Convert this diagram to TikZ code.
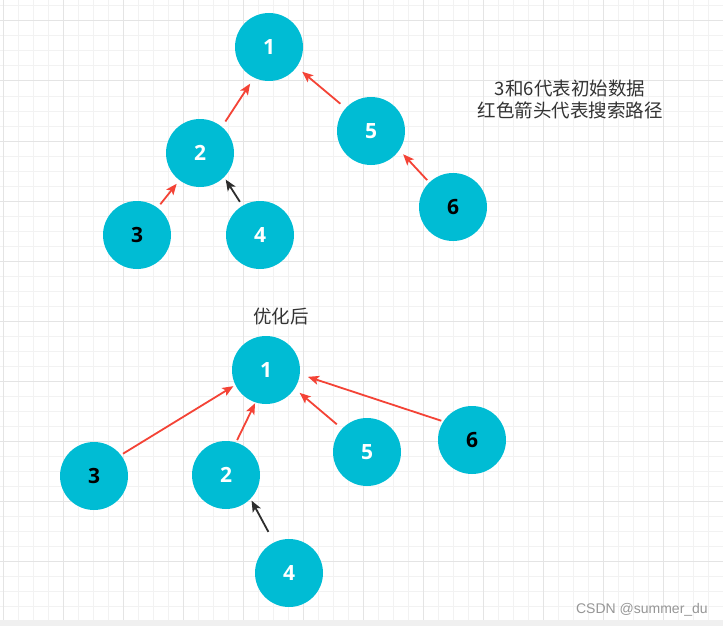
\documentclass[tikz,border=0pt]{standalone}
\usepackage{fontspec}
\setmainfont{Open Sans}
\newfontfamily\cjk{Noto Sans CJK SC}
\newfontfamily\arialf{Liberation Sans}
\usetikzlibrary{arrows.meta}
\definecolor{nodecyan}{RGB}{0,188,212}
\definecolor{arrred}{RGB}{244,67,54}
\definecolor{arrblack}{RGB}{45,45,45}
\definecolor{gridminor}{RGB}{242,242,242}
\definecolor{gridmajor}{RGB}{228,228,228}
\definecolor{txtgray}{RGB}{51,51,51}
\definecolor{wmgray}{RGB}{150,150,150}
\tikzset{
  circ/.style={circle, fill=nodecyan, minimum size=68pt, inner sep=0pt, outer sep=0pt,
    font=\fontsize{21}{24}\selectfont\bfseries, text=white},
  circdark/.style={circ, text=black},
  redarr/.style={draw=arrred, line width=1.8pt, -{Stealth[length=11pt,width=9pt,inset=2.5pt]}},
  blkarr/.style={draw=arrblack, line width=1.8pt, -{Stealth[length=11pt,width=9pt,inset=2.5pt]}},
  note/.style={font=\cjk\fontsize{18.5}{22}\selectfont, text=txtgray, align=center, inner sep=0pt}
}
\begin{document}
\begin{tikzpicture}[x=1pt,y=-1pt]
\useasboundingbox (0,0) rectangle (723,626);
\fill[white] (0,0) rectangle (723,626);
\begin{scope}
\clip (0,0) rectangle (723,620);
\foreach \x in {3,18,...,723} \draw[gridminor, line width=1pt] (\x,0) -- (\x,626);
\foreach \y in {6,21,...,626} \draw[gridminor, line width=1pt] (0,\y) -- (723,\y);
\foreach \x in {3,63,...,723} \draw[gridmajor, line width=1pt] (\x,0) -- (\x,626);
\foreach \y in {21,81,...,626} \draw[gridmajor, line width=1pt] (0,\y) -- (723,\y);
\end{scope}
\fill[gray!12] (0,620) rectangle (723,626);

% top tree
\node[circ] (t1) at (269,47) {1};
\node[circ] (t2) at (200,153) {2};
\node[circdark] (t3) at (137,235) {3};
\node[circ] (t4) at (260,235) {4};
\node[circ] (t5) at (371,131) {5};
\node[circdark] (t6) at (453,207) {6};

\draw[redarr, shorten <=6.5pt, shorten >=7.3pt] (t2.50) -- (t1.244);
\draw[redarr, shorten <=4.6pt, shorten >=4.6pt] (t3.53) -- (t2.233);
\draw[blkarr, shorten <=4.8pt, shorten >=3pt] (t4.121) -- (t2.315);
\draw[redarr, shorten <=7pt, shorten >=7.4pt] (t5.138) -- (t1.324);
\draw[redarr, shorten <=3.3pt, shorten >=5.8pt] (t6.134) -- (t5.326);

\node[note] (desc) at (570,99) {3和6代表初始数据\\红色箭头代表搜索路径};

% bottom tree
\node[note] (opt) at (281,316) {优化后};
\node[circ] (b1) at (266,370) {1};
\node[circdark] (b3) at (94,476) {3};
\node[circ] (b2) at (226,475) {2};
\node[circ] (b4) at (289,573) {4};
\node[circ] (b5) at (367,452) {5};
\node[circdark] (b6) at (472,440) {6};

\draw[redarr, shorten <=2.6pt, shorten >=2.4pt] (b3.38) -- (b1.206);
\draw[redarr, shorten <=2.6pt, shorten >=1pt] (b2.73) -- (b1.252);
\draw[blkarr, shorten <=12pt, shorten >=2.3pt] (b4.116) -- (b2.316);
\draw[redarr, shorten <=7pt, shorten >=6.7pt] (b5.137) -- (b1.327);
\draw[redarr, shorten <=2.3pt, shorten >=8.6pt] (b6.147) -- (b1.353);

\node[font=\arialf\fontsize{14}{16}\selectfont, text=wmgray, inner sep=0pt, anchor=east] (wm) at (708,610) {CSDN @summer\_du};
\end{tikzpicture}
\end{document}
